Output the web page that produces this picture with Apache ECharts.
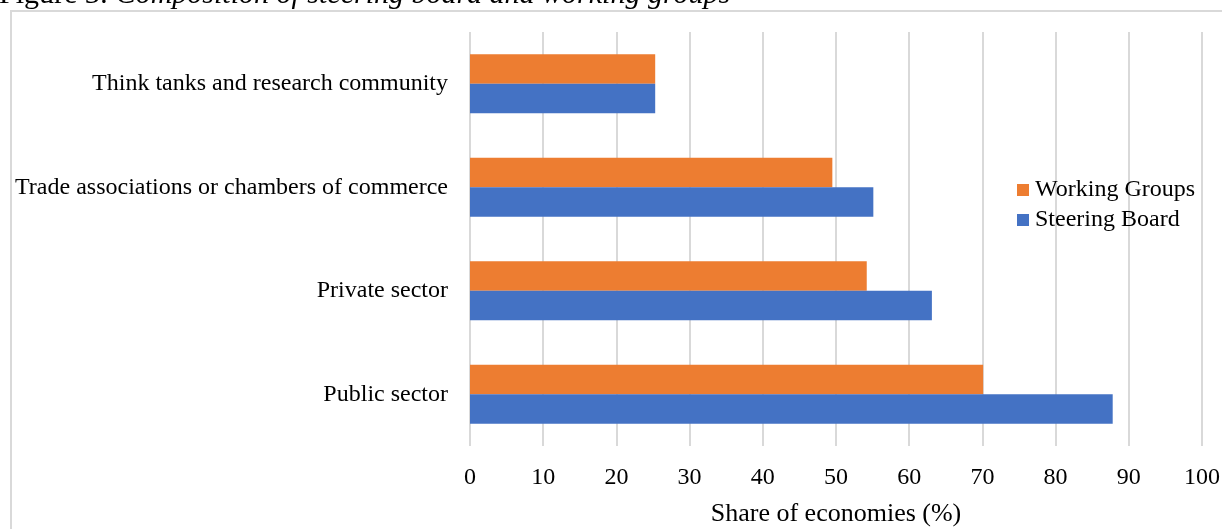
<!DOCTYPE html>
<html>
<head>
<meta charset="utf-8">
<script src="https://cdn.jsdelivr.net/npm/echarts@6/dist/echarts.min.js"></script>
<style>
  html, body { margin: 0; padding: 0; background: #fff; }
  #chart { width: 1222px; height: 529px; }
</style>
</head>
<body>
<div id="chart"></div>
<script>
// bottom to top, as echarts draws a category y axis
const categories = ['Public sector', 'Private sector', 'Trade associations or chambers of commerce', 'Think tanks and research community']
const steeringBoard = [87.8, 63.1, 55.1, 25.3]
const workingGroups = [70.1, 54.2, 49.5, 25.3]
const xTicks = [0, 100, 10]  // min, max, interval

const serif = '"Liberation Serif", "DejaVu Serif", serif'

const chart = echarts.init(document.getElementById('chart'))

const option = {
  animation: false,
  title: {
    text: '{a|Figure 3: }{b|Composition of steering board and working groups}',
    left: -1,
    top: -20,
    padding: 0,
    textStyle: {
      rich: {
        a: { fontFamily: serif, fontSize: 30, fontWeight: 'normal', color: '#000' },
        b: { fontFamily: serif, fontSize: 30, fontWeight: 'normal', fontStyle: 'italic', color: '#000' }
      }
    }
  },
  graphic: [
    {
      type: 'rect',
      shape: { x: 11, y: 11, width: 1240, height: 560 },
      style: { fill: 'none', stroke: '#d9d9d9', lineWidth: 2 },
      silent: true
    }
  ],
  legend: {
    data: ['Working Groups', 'Steering Board'],
    orient: 'vertical',
    left: 1017,
    top: 178,
    padding: 0,
    itemWidth: 12,
    itemHeight: 12,
    itemGap: 6,
    icon: 'rect',
    textStyle: { fontFamily: serif, fontSize: 24, color: '#000', padding: [0, 0, 0, 1] }
  },
  grid: {
    left: 470,
    right: 20,
    top: 32,
    bottom: 83,
    containLabel: false,
    outerBoundsMode: 'none'
  },
  xAxis: {
    type: 'value',
    min: xTicks[0],
    max: xTicks[1],
    interval: xTicks[2],
    name: 'Share of economies (%)',
    nameLocation: 'middle',
    nameGap: 55,
    nameTextStyle: { fontFamily: serif, fontSize: 26, color: '#000' },
    axisLine: { show: false },
    axisTick: { show: false },
    axisLabel: { fontFamily: serif, fontSize: 24, color: '#000', margin: 20 },
    splitLine: { lineStyle: { color: '#d9d9d9', width: 2 } }
  },
  yAxis: {
    type: 'category',
    data: categories,
    axisLine: { show: false },
    axisTick: { show: false },
    axisLabel: { fontFamily: serif, fontSize: 24, color: '#000', margin: 22 }
  },
  series: [
    {
      name: 'Working Groups',
      type: 'bar',
      data: workingGroups,
      barWidth: 29.5,
      barGap: '0%',
      barCategoryGap: '43%',
      itemStyle: { color: '#ED7D31' }
    },
    {
      name: 'Steering Board',
      type: 'bar',
      data: steeringBoard,
      barWidth: 29.5,
      barGap: '0%',
      itemStyle: { color: '#4472C4' }
    }
  ]
}

chart.setOption(option)
</script>
</body>
</html>
